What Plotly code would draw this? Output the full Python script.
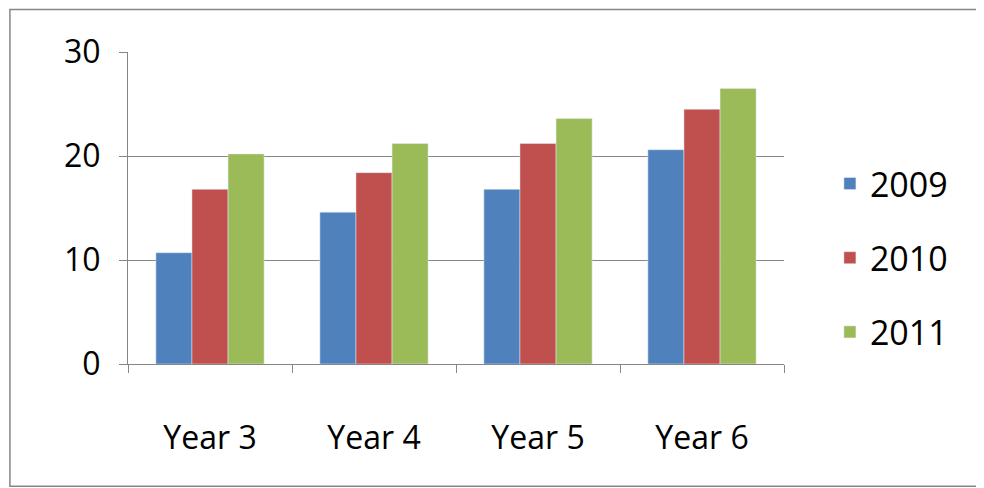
import plotly.graph_objects as go

categories = ["Year 3", "Year 4", "Year 5", "Year 6"]
y2009 = [10.7, 14.6, 16.8, 20.6]
y2010 = [16.8, 18.4, 21.2, 24.5]
y2011 = [20.2, 21.2, 23.6, 26.5]

fig = go.Figure()
fig.add_bar(x=categories, y=y2009, name="2009", marker_color="#4F81BD", legendgroup="a")
fig.add_bar(x=categories, y=y2010, name="2010", marker_color="#C0504D", legendgroup="b")
fig.add_bar(x=categories, y=y2011, name="2011", marker_color="#9BBB59", legendgroup="c")

fig.update_layout(
    width=976, height=480,
    margin=dict(l=120, r=200, t=44, b=124),
    paper_bgcolor="white", plot_bgcolor="white",
    barmode="group", bargap=0.34, bargroupgap=0,
    font=dict(family="Open Sans", size=32, color="black"),
    legend=dict(x=1.07, y=0.34, yanchor="middle", font=dict(size=34),
                traceorder="grouped", tracegroupgap=27),
    xaxis=dict(showline=True, linecolor="#868686", ticks="outside",
               tickson="boundaries", ticklen=8, tickcolor="#868686",
               ticklabelstandoff=46),
    yaxis=dict(range=[0, 30], dtick=10, showline=True, linecolor="#868686",
               ticks="outside", ticklen=8, tickcolor="#868686",
               gridcolor="#868686", gridwidth=1, zeroline=False,
               ticklabelstandoff=12),
    shapes=[dict(type="rect", xref="paper", yref="paper",
                 x0=-0.18, x1=1.3, y0=-0.392, y1=1.136,
                 line=dict(color="#868686", width=1.5))],
)

fig.write_html("out.html")
